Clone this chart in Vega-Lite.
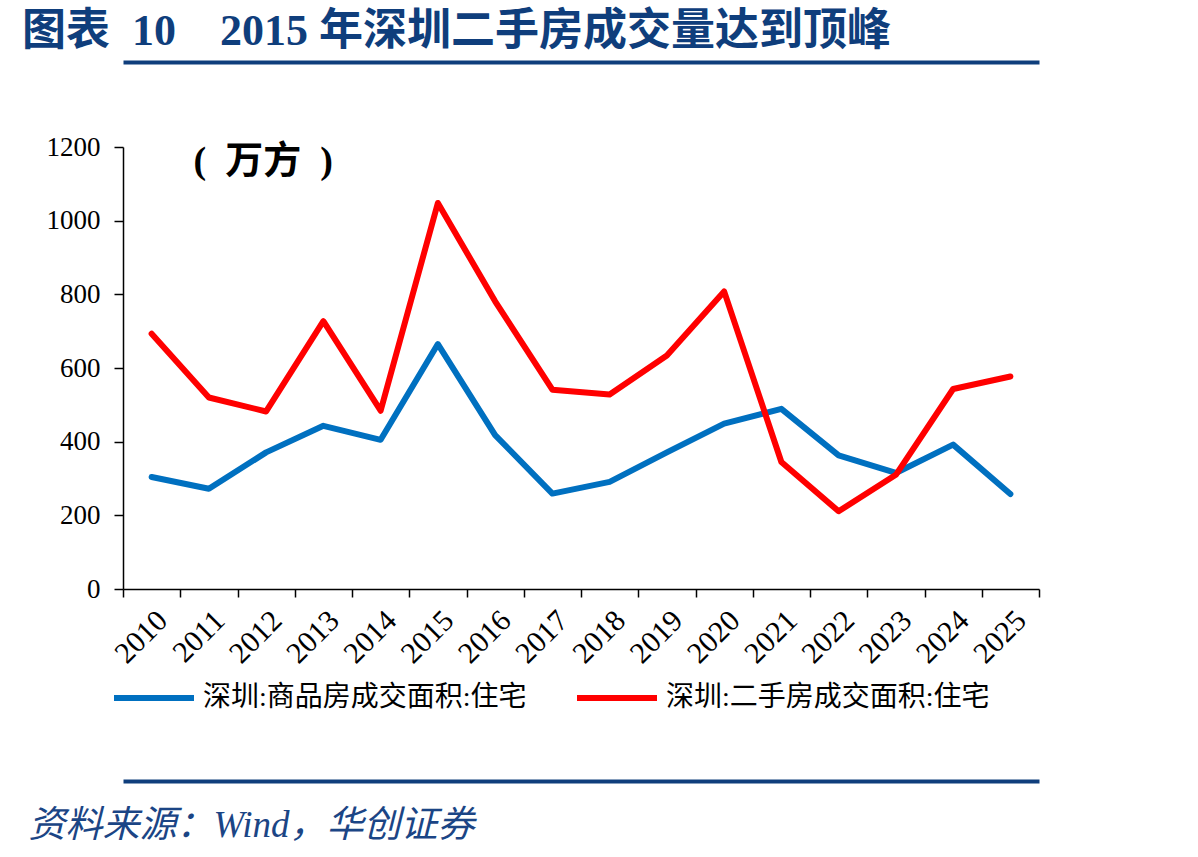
{
  "$schema": "https://vega.github.io/schema/vega-lite/v6.json",
  "width": 916,
  "height": 442,
  "autosize": {"type": "none"},
  "padding": {"left": 123, "top": 147, "right": 159, "bottom": 268},
  "background": "white",
  "title": {
    "text": "图表\u200210\u30002015 年深圳二手房成交量达到顶峰",
    "anchor": "start",
    "frame": "group",
    "dx": -101,
    "offset": 8,
    "font": "Liberation Serif, Noto Sans CJK SC",
    "fontSize": 44,
    "fontWeight": "bold",
    "color": "#0F3E7C"
  },
  "data": {
    "values": [
      {"year": "2010", "series": "深圳:商品房成交面积:住宅", "value": 304},
      {"year": "2011", "series": "深圳:商品房成交面积:住宅", "value": 272},
      {"year": "2012", "series": "深圳:商品房成交面积:住宅", "value": 371},
      {"year": "2013", "series": "深圳:商品房成交面积:住宅", "value": 443},
      {"year": "2014", "series": "深圳:商品房成交面积:住宅", "value": 405},
      {"year": "2015", "series": "深圳:商品房成交面积:住宅", "value": 665},
      {"year": "2016", "series": "深圳:商品房成交面积:住宅", "value": 418},
      {"year": "2017", "series": "深圳:商品房成交面积:住宅", "value": 259},
      {"year": "2018", "series": "深圳:商品房成交面积:住宅", "value": 291},
      {"year": "2019", "series": "深圳:商品房成交面积:住宅", "value": 371},
      {"year": "2020", "series": "深圳:商品房成交面积:住宅", "value": 449},
      {"year": "2021", "series": "深圳:商品房成交面积:住宅", "value": 489},
      {"year": "2022", "series": "深圳:商品房成交面积:住宅", "value": 363},
      {"year": "2023", "series": "深圳:商品房成交面积:住宅", "value": 315},
      {"year": "2024", "series": "深圳:商品房成交面积:住宅", "value": 392},
      {"year": "2025", "series": "深圳:商品房成交面积:住宅", "value": 258},
      {"year": "2010", "series": "深圳:二手房成交面积:住宅", "value": 693},
      {"year": "2011", "series": "深圳:二手房成交面积:住宅", "value": 520},
      {"year": "2012", "series": "深圳:二手房成交面积:住宅", "value": 482},
      {"year": "2013", "series": "深圳:二手房成交面积:住宅", "value": 727},
      {"year": "2014", "series": "深圳:二手房成交面积:住宅", "value": 484},
      {"year": "2015", "series": "深圳:二手房成交面积:住宅", "value": 1048},
      {"year": "2016", "series": "深圳:二手房成交面积:住宅", "value": 781},
      {"year": "2017", "series": "深圳:二手房成交面积:住宅", "value": 541},
      {"year": "2018", "series": "深圳:二手房成交面积:住宅", "value": 528},
      {"year": "2019", "series": "深圳:二手房成交面积:住宅", "value": 634},
      {"year": "2020", "series": "深圳:二手房成交面积:住宅", "value": 808},
      {"year": "2021", "series": "深圳:二手房成交面积:住宅", "value": 345},
      {"year": "2022", "series": "深圳:二手房成交面积:住宅", "value": 211},
      {"year": "2023", "series": "深圳:二手房成交面积:住宅", "value": 310},
      {"year": "2024", "series": "深圳:二手房成交面积:住宅", "value": 543},
      {"year": "2025", "series": "深圳:二手房成交面积:住宅", "value": 577}
    ]
  },
  "resolve": {"axis": {"x": "independent"}},
  "layer": [
    {
      "mark": {"type": "line", "strokeWidth": 6, "strokeCap": "round", "strokeJoin": "round"},
      "encoding": {
        "x": {
          "field": "year",
          "type": "ordinal",
          "bandPosition": 0.5,
          "scale": {"type": "band", "paddingInner": 0, "paddingOuter": 0},
          "axis": {
            "tickBand": "extent",
            "tickSize": 8,
            "tickColor": "black",
            "tickWidth": 1.5,
            "domainColor": "black",
            "domainWidth": 1.5,
            "labelAngle": -45,
            "labelFont": "Liberation Serif",
            "labelFontSize": 30,
            "labelColor": "black",
            "labelPadding": 8,
            "title": "资料来源：Wind，华创证券",
            "titleX": -95,
            "titleY": 247,
            "titleAlign": "left",
            "titleAnchor": "start",
            "titleBaseline": "alphabetic",
            "titleFont": "Liberation Serif, Noto Sans CJK SC",
            "titleFontSize": 37,
            "titleFontStyle": "italic",
            "titleFontWeight": "normal",
            "titleColor": "#1B4585"
          }
        },
        "y": {
          "field": "value",
          "type": "quantitative",
          "scale": {"domain": [0, 1200], "nice": false},
          "axis": {
            "values": [0, 200, 400, 600, 800, 1000, 1200],
            "format": "d",
            "grid": false,
            "tickSize": 9,
            "tickColor": "black",
            "tickWidth": 1.5,
            "domainColor": "black",
            "domainWidth": 1.5,
            "labelFont": "Liberation Serif",
            "labelFontSize": 27,
            "labelColor": "black",
            "labelPadding": 14,
            "title": "(\u2002万方\u2002)",
            "titleAngle": 0,
            "titleX": 70,
            "titleY": 14,
            "titleAlign": "left",
            "titleBaseline": "middle",
            "titleFont": "Liberation Serif, Noto Sans CJK SC",
            "titleFontSize": 38,
            "titleFontWeight": "bold",
            "titleColor": "black"
          }
        },
        "color": {
          "field": "series",
          "type": "nominal",
          "scale": {
            "domain": ["深圳:商品房成交面积:住宅", "深圳:二手房成交面积:住宅"],
            "range": ["#0070C0", "#FF0000"]
          },
          "legend": {
            "orient": "none",
            "legendX": -12,
            "legendY": 508,
            "direction": "horizontal",
            "title": null,
            "padding": 0,
            "symbolType": "stroke",
            "symbolSize": 6400,
            "symbolStrokeWidth": 6,
            "labelFont": "Liberation Serif, Noto Sans CJK SC",
            "labelFontSize": 28,
            "labelLimit": 600,
            "labelColor": "black",
            "labelOffset": 6,
            "columnPadding": 38
          }
        }
      }
    },
    {
      "mark": {"type": "line", "opacity": 0},
      "encoding": {
        "x": {
          "field": "year",
          "type": "ordinal",
          "bandPosition": 0.5,
          "axis": {"orient": "top", "offset": 85, "domainColor": "#0F3E7C", "domainWidth": 4, "ticks": false, "labels": false, "title": null}
        },
        "y": {"field": "value", "type": "quantitative"}
      }
    },
    {
      "mark": {"type": "line", "opacity": 0},
      "encoding": {
        "x": {
          "field": "year",
          "type": "ordinal",
          "bandPosition": 0.5,
          "axis": {"orient": "bottom", "offset": 192, "domainColor": "#0F3E7C", "domainWidth": 4, "ticks": false, "labels": false, "title": null}
        },
        "y": {"field": "value", "type": "quantitative"}
      }
    }
  ],
  "config": {"view": {"stroke": null}}
}
